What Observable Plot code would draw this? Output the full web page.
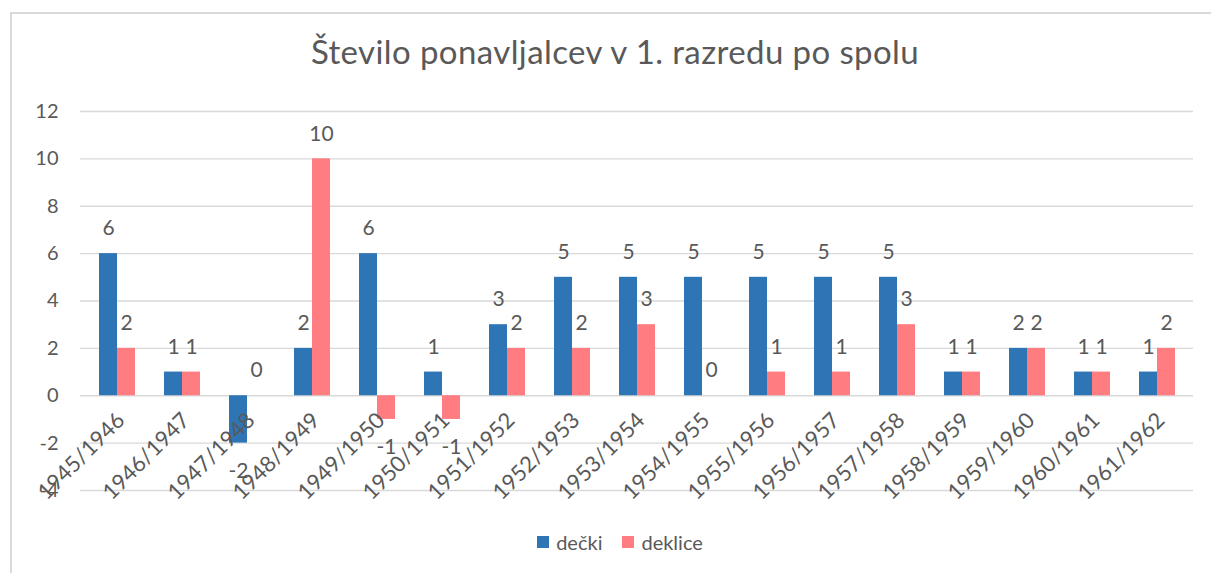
<!DOCTYPE html>
<html>
<head>
<meta charset="utf-8">
<script src="https://cdn.jsdelivr.net/npm/d3@7"></script>
<script src="https://cdn.jsdelivr.net/npm/@observablehq/plot@0.6"></script>
<style>
  html, body { margin: 0; padding: 0; background: #fff; overflow: hidden; }
  #wrap { position: relative; width: 1211px; height: 573px; overflow: hidden; font-family: Lato, "Open Sans", sans-serif; color: #595959; }
  #frame { position: absolute; left: 10px; top: 12px; width: 1400px; height: 800px; border: 2px solid #d9d9d9; box-sizing: border-box; }
  #title { position: absolute; left: 0; width: 1230px; top: 33px; text-align: center; font-size: 33px; line-height: 36px; letter-spacing: 0.4px; color: #595959; }
  #base, #chart { position: absolute; left: 0; top: 90px; }
  #legend { position: absolute; left: 0; width: 1240px; top: 530px; display: flex; justify-content: center; align-items: center; font-size: 20px; color: #595959; }
  .item { display: flex; align-items: center; margin: 0 10px; }
  .sw { width: 12px; height: 12px; margin-right: 7px; }
</style>
</head>
<body>
<div id="wrap">
  <div id="frame"></div>
  <div id="title">Število ponavljalcev v 1. razredu po spolu</div>
  <div id="base"></div>
  <div id="chart"></div>
  <div id="legend"></div>
</div>
<script>
const years = ["1945/1946","1946/1947","1947/1948","1948/1949","1949/1950","1950/1951","1951/1952","1952/1953","1953/1954","1954/1955","1955/1956","1956/1957","1957/1958","1958/1959","1959/1960","1960/1961","1961/1962"];
const decki   = [6, 1, -2, 2, 6, 1, 3, 5, 5, 5, 5, 5, 5, 1, 2, 1, 1];
const deklice = [2, 1, 0, 10, -1, -1, 2, 2, 3, 0, 1, 1, 3, 1, 2, 1, 2];
const series = ["dečki", "deklice"];
const colors = ["#2E75B6", "#FF7C80"];
const yTicks = [-4, -2, 0, 2, 4, 6, 8, 10, 12];

const rows = years.flatMap((y, i) => [
  {year: y, series: series[0], value: decki[i]},
  {year: y, series: series[1], value: deklice[i]}
]);
const txt = "#595959";

const common = {
  width: 1211,
  height: 440,
  marginLeft: 80,
  marginRight: 18,
  marginTop: 21,
  marginBottom: 40,
  style: {fontFamily: "Lato, 'Open Sans', sans-serif", fontSize: "20px", color: txt, background: "transparent", overflow: "visible"}
};

// base layer: continuous grid lines and y tick labels
const base = Plot.plot({
  ...common,
  y: {domain: [-4, 12], axis: null},
  marks: [
    Plot.ruleY(yTicks, {y: d => d, stroke: "#d9d9d9", strokeWidth: 1.3}),
    Plot.text(yTicks, {y: d => d, text: d => String(d), frameAnchor: "left", textAnchor: "end", dx: -22, fill: txt, fontSize: 20})
  ]
});
document.getElementById("base").appendChild(base);

// bars and labels, grouped by school year
const chart = Plot.plot({
  ...common,
  fx: {domain: years, paddingInner: 0.435, paddingOuter: 0.2175, axis: null, label: null},
  x: {domain: series, paddingInner: 0, paddingOuter: 0, axis: null},
  y: {domain: [-4, 12], axis: null},
  color: {domain: series, range: colors},
  marks: [
    Plot.barY(rows, {fx: "year", x: "series", y: "value", fill: "series"}),
    Plot.text(rows.filter(d => d.value >= 0), {fx: "year", x: "series", y: "value", text: d => String(d.value), dy: -25, fill: txt, fontSize: 21}),
    Plot.text(rows.filter(d => d.value < 0), {fx: "year", x: "series", y: "value", text: d => String(d.value), dy: 28, fill: txt, fontSize: 21}),
    Plot.text(years, {fx: d => d, y: () => 0, text: d => d, rotate: -45, textAnchor: "end", dx: 4, dy: 21, fill: txt, fontSize: 22})
  ]
});
document.getElementById("chart").appendChild(chart);

const legend = document.getElementById("legend");
series.forEach((s, i) => {
  const item = document.createElement("div");
  item.className = "item";
  const sw = document.createElement("div");
  sw.className = "sw";
  sw.style.background = colors[i];
  const lab = document.createElement("span");
  lab.textContent = s;
  item.appendChild(sw);
  item.appendChild(lab);
  legend.appendChild(item);
});
</script>
</body>
</html>
